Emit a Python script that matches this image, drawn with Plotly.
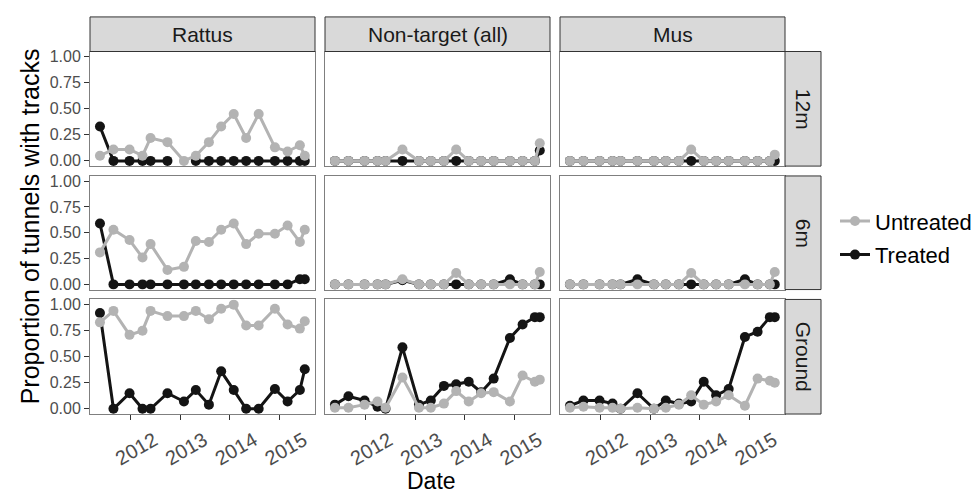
import plotly.graph_objects as go
from plotly.subplots import make_subplots

# ---------------- data ----------------
dates = ["2011-05-25", "2011-09-01", "2011-12-28", "2012-04-01", "2012-05-30",
         "2012-10-01", "2013-01-30", "2013-04-27", "2013-08-01", "2013-10-30",
         "2014-01-30", "2014-05-01", "2014-08-01", "2014-11-28", "2015-03-01",
         "2015-05-30", "2015-07-05"]

species = ["Rattus", "Non-target (all)", "Mus"]
distances = ["12m", "6m", "Ground"]
treatments = ["Untreated", "Treated"]

x_tick_vals = ["2012-01-01", "2013-01-01", "2014-01-01", "2015-01-01"]
x_tick_text = ["2012", "2013", "2014", "2015"]
y_tick_vals = [0, 0.25, 0.5, 0.75, 1.0]
y_tick_text = ["0.00", "0.25", "0.50", "0.75", "1.00"]

rattus_12m_untreated = [0.05, 0.11, 0.11, 0.05, 0.22, 0.18, 0.00, 0.05, 0.18, 0.33, 0.45, 0.22, 0.45, 0.13, 0.09, 0.15, 0.05]
rattus_12m_treated = [0.33, 0, 0, 0, 0, 0, None, 0, 0, 0, 0, 0, 0, 0, 0, 0, 0]
rattus_6m_untreated = [0.31, 0.53, 0.43, 0.26, 0.39, 0.14, 0.17, 0.42, 0.41, 0.53, 0.59, 0.39, 0.49, 0.49, 0.57, 0.41, 0.53]
rattus_6m_treated = [0.59, 0, 0, 0, 0, 0, 0, 0, 0, 0, 0, 0, 0, 0, 0, 0.05, 0.05]
rattus_ground_untreated = [0.83, 0.94, 0.71, 0.75, 0.94, 0.89, 0.89, 0.94, 0.86, 0.96, 1.00, 0.80, 0.80, 0.96, 0.81, 0.77, 0.84]
rattus_ground_treated = [0.92, 0, 0.15, 0, 0, 0.15, 0.07, 0.18, 0.04, 0.36, 0.18, 0, 0, 0.19, 0.07, 0.18, 0.38]

nontarget_12m_untreated = [0, 0, 0, 0, 0, 0.11, 0, 0, 0, 0.11, 0, 0, 0, 0, 0, 0, 0.17]
nontarget_12m_treated = [0, 0, 0, 0, 0, 0, 0, 0, 0, 0, 0, 0, 0, 0, 0, 0, 0.10]
nontarget_6m_untreated = [0, 0, 0, 0, 0, 0.05, 0, 0, 0, 0.11, 0, 0, 0, 0, 0, 0, 0.12]
nontarget_6m_treated = [0, 0, 0, 0, 0, 0.04, 0, 0, 0, 0, 0, 0, 0, 0.05, 0, 0, 0]
nontarget_ground_untreated = [0.01, 0.01, 0.04, 0.07, 0.01, 0.30, 0.01, 0.01, 0.05, 0.17, 0.07, 0.15, 0.16, 0.07, 0.32, 0.26, 0.28]
nontarget_ground_treated = [0.04, 0.12, 0.08, 0.02, 0.00, 0.59, 0.04, 0.08, 0.22, 0.235, 0.26, 0.16, 0.29, 0.68, 0.81, 0.88, 0.88]

mus_12m_untreated = [0, 0, 0, 0, 0, 0, 0, 0, 0, 0.11, 0, 0, 0, 0, 0, 0, 0.06]
mus_12m_treated = [0, 0, 0, 0, 0, 0, 0, 0, 0, 0, 0, 0, 0, 0, 0, 0, 0]
mus_6m_untreated = [0, 0, 0, 0, 0, 0, 0, 0, 0, 0.11, 0, 0, 0, 0, 0, 0, 0.12]
mus_6m_treated = [0, 0, 0, 0, 0, 0.05, 0, 0, 0, 0, 0, 0, 0, 0.05, 0, 0, 0]
mus_ground_untreated = [0.01, 0.02, 0.01, 0.01, 0, 0.01, 0, 0.01, 0.04, 0.13, 0.04, 0.07, 0.13, 0.03, 0.29, 0.27, 0.25]
mus_ground_treated = [0.03, 0.08, 0.08, 0.05, 0, 0.15, 0, 0.08, 0.05, 0.07, 0.26, 0.13, 0.19, 0.69, 0.74, 0.88, 0.88]

table = {
    ("Rattus", "12m"): (rattus_12m_untreated, rattus_12m_treated),
    ("Rattus", "6m"): (rattus_6m_untreated, rattus_6m_treated),
    ("Rattus", "Ground"): (rattus_ground_untreated, rattus_ground_treated),
    ("Non-target (all)", "12m"): (nontarget_12m_untreated, nontarget_12m_treated),
    ("Non-target (all)", "6m"): (nontarget_6m_untreated, nontarget_6m_treated),
    ("Non-target (all)", "Ground"): (nontarget_ground_untreated, nontarget_ground_treated),
    ("Mus", "12m"): (mus_12m_untreated, mus_12m_treated),
    ("Mus", "6m"): (mus_6m_untreated, mus_6m_treated),
    ("Mus", "Ground"): (mus_ground_untreated, mus_ground_treated),
}

# ---------------- styling ----------------
OFF = 8                      # default page body margin
W, H = 979 - OFF, 500 - OFF
FONT = "Liberation Sans, Arial, sans-serif"
GREY = "#b3b3b3"
BLACK = "#141414"
col_px = [(90, 315), (325, 550), (560, 785)]
row_px = [(49, 165), (175, 290), (300, 416)]
strip_top = (14, 49)
strip_right = (785, 821)


def fx(px):
    return (px - OFF) / W


def fy(py):
    return 1 - (py - OFF) / H


fig = make_subplots(rows=3, cols=3)

for r, dist in enumerate(distances):
    for c, sp in enumerate(species):
        unt, trt = table[(sp, dist)]
        first = (r == 0 and c == 0)
        fig.add_trace(go.Scatter(
            x=dates, y=trt, mode="lines+markers", name="Treated",
            line=dict(color=BLACK, width=3), marker=dict(color=BLACK, size=10),
            legendgroup="Treated", legendrank=2, showlegend=first,
            connectgaps=False), row=r + 1, col=c + 1)
        fig.add_trace(go.Scatter(
            x=dates, y=unt, mode="lines+markers", name="Untreated",
            line=dict(color=GREY, width=3), marker=dict(color=GREY, size=10),
            legendgroup="Untreated", legendrank=1, showlegend=first,
            connectgaps=False), row=r + 1, col=c + 1)

for r in range(3):
    for c in range(3):
        idx = r * 3 + c + 1
        xs = "" if idx == 1 else str(idx)
        x0, x1 = col_px[c]
        y0, y1 = row_px[r]
        fig.layout["xaxis" + xs].update(
            domain=[fx(x0), fx(x1)], type="date",
            range=["2011-03-13", "2015-09-18"],
            tickmode="array", tickvals=x_tick_vals, ticktext=x_tick_text,
            showticklabels=(r == 2), ticks="outside" if r == 2 else "",
            ticklen=5, tickcolor="#333333", tickwidth=1,
            tickangle=-30, ticklabelshift=24, ticklabelstandoff=1,
            tickfont=dict(family=FONT, size=20, color="#4d4d4d"),
            showgrid=False, zeroline=False,
            showline=True, mirror=True, linecolor="#7f7f7f", linewidth=1)
        fig.layout["yaxis" + xs].update(
            domain=[fy(y1), fy(y0)],
            range=[-0.05, 1.05],
            tickmode="array", tickvals=y_tick_vals, ticktext=y_tick_text,
            showticklabels=(c == 0), ticks="outside" if c == 0 else "",
            ticklen=5, tickcolor="#333333", tickwidth=1,
            tickfont=dict(family=FONT, size=16, color="#4d4d4d"),
            showgrid=False, zeroline=False,
            showline=True, mirror=True, linecolor="#7f7f7f", linewidth=1)

shapes = []
annotations = []
for c, sp in enumerate(species):
    x0, x1 = col_px[c]
    shapes.append(dict(type="rect", xref="paper", yref="paper",
                       x0=fx(x0), x1=fx(x1), y0=fy(strip_top[1]), y1=fy(strip_top[0]),
                       fillcolor="#d9d9d9", line=dict(color="#333333", width=1), layer="above"))
    annotations.append(dict(text=sp, xref="paper", yref="paper",
                            x=fx((x0 + x1) / 2), y=fy((strip_top[0] + strip_top[1]) / 2),
                            showarrow=False, font=dict(family=FONT, size=21, color="#1a1a1a"),
                            xanchor="center", yanchor="middle"))
for r, dist in enumerate(distances):
    y0, y1 = row_px[r]
    shapes.append(dict(type="rect", xref="paper", yref="paper",
                       x0=fx(strip_right[0]), x1=fx(strip_right[1]), y0=fy(y1), y1=fy(y0),
                       fillcolor="#d9d9d9", line=dict(color="#333333", width=1), layer="above"))
    annotations.append(dict(text=dist, xref="paper", yref="paper",
                            x=fx((strip_right[0] + strip_right[1]) / 2), y=fy((y0 + y1) / 2),
                            showarrow=False, textangle=90,
                            font=dict(family=FONT, size=21, color="#1a1a1a"),
                            xanchor="center", yanchor="middle"))

annotations.append(dict(text="Date", xref="paper", yref="paper",
                        x=fx(431), y=fy(484), showarrow=False,
                        font=dict(family=FONT, size=23, color="#000000"),
                        xanchor="center", yanchor="middle"))
annotations.append(dict(text="Proportion of tunnels with tracks", xref="paper", yref="paper",
                        x=fx(30), y=fy(226), showarrow=False, textangle=-90,
                        font=dict(family=FONT, size=25, color="#000000"),
                        xanchor="center", yanchor="middle"))

fig.update_layout(
    width=W, height=H, autosize=False,
    margin=dict(l=0, r=0, t=0, b=0),
    paper_bgcolor="white", plot_bgcolor="white",
    shapes=shapes, annotations=annotations,
    legend=dict(x=fx(835), y=fy(238), xanchor="left", yanchor="middle",
                font=dict(family=FONT, size=22, color="#000000"),
                itemwidth=30, traceorder="grouped", tracegroupgap=2,
                bgcolor="rgba(0,0,0,0)"),
    font=dict(family=FONT),
)

fig.write_html("out.html")
